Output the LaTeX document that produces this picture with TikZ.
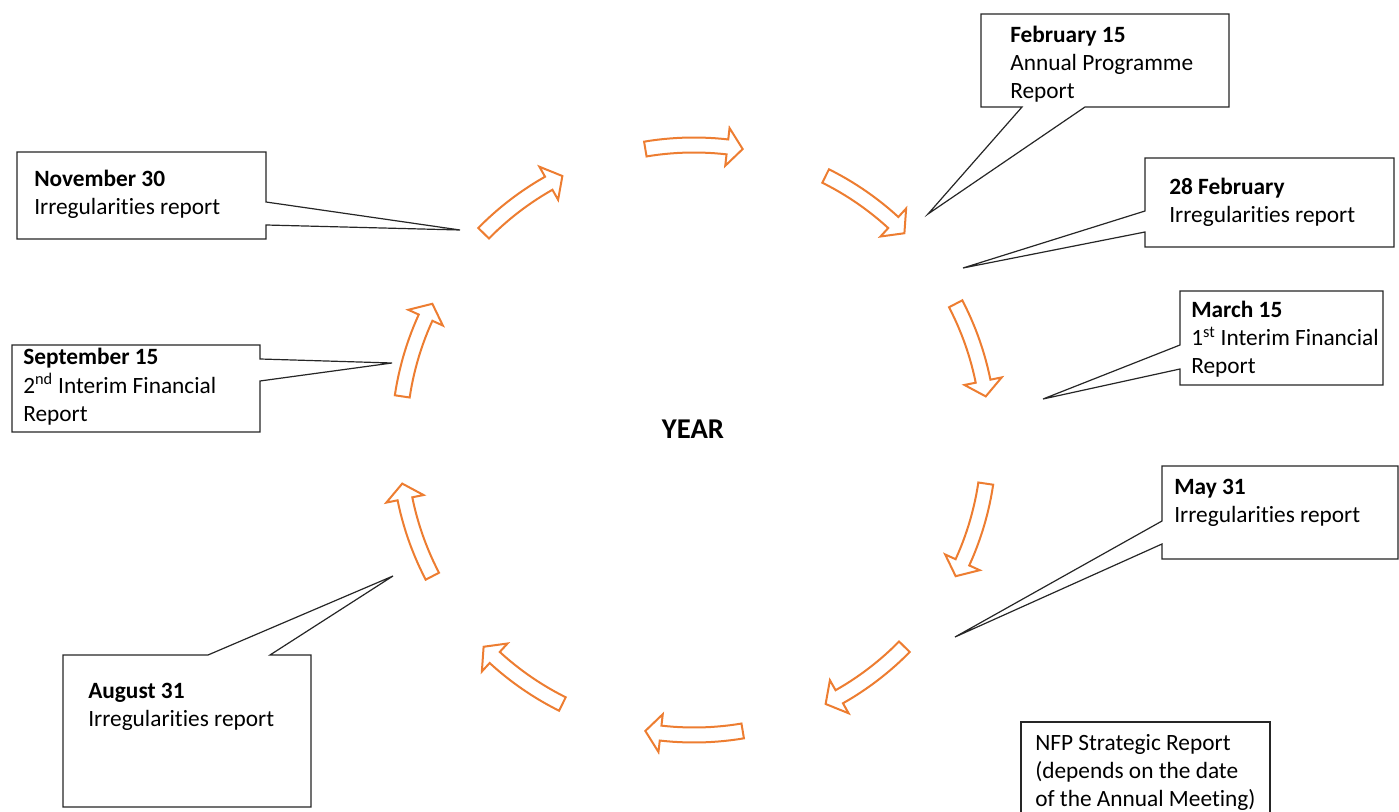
\documentclass[tikz,border=0pt]{standalone}
\usepackage{fontspec}
\setmainfont{Carlito}[RawFeature={-liga;-clig;-calt;-dlig}]
\definecolor{acc}{HTML}{ED7D31}
\newcommand\lblines[1]{\begin{tabular}[t]{@{}l@{}}#1\end{tabular}}
\begin{document}
\begin{tikzpicture}[x=0.75pt,y=-0.75pt,
  cyclearrow/.style={draw=acc, line width=1.5pt, fill=white, line join=miter},
  callout/.style={draw=black!85, line width=0.9pt, fill=white, line join=miter},
  lbl/.style={anchor=base west, inner sep=0pt, font=\fontsize{17.5}{21}\selectfont}]
\useasboundingbox (0,0) rectangle (1399,812);

% cycle arrows
\foreach \c in {-90,-54,-18,18,54,90,126,162,198,234} {
  \pgfmathsetmacro\ta{\c-9.5}
  \pgfmathsetmacro\tb{\c+6.5}
  \pgfmathsetmacro\tc{\c+9.5}
  \draw[cyclearrow] plot[domain=\ta:\tb,samples=14] ({694+302.5*cos(\x)},{440+302.5*sin(\x)})
    -- ({694+314*cos(\tb)},{440+314*sin(\tb)})
    -- ({694+295*cos(\tc)},{440+295*sin(\tc)})
    -- ({694+276*cos(\tb)},{440+276*sin(\tb)})
    -- plot[domain=\tb:\ta,samples=14] ({694+287.5*cos(\x)},{440+287.5*sin(\x)})
    -- cycle;
}

\node[font=\fontsize{21.5}{26}\selectfont\bfseries] (year) at (693,429) {YEAR};

% pointer tips
\coordinate (tipA) at (928,214);
\coordinate (tipB) at (963,268);
\coordinate (tipC) at (1043,399);
\coordinate (tipD) at (955,637);
\coordinate (tipE) at (393,576);
\coordinate (tipF) at (392,363);
\coordinate (tipG) at (460,230);

% callouts
\draw[callout] (981,14) -- (1229,14) -- (1229,107) -- (1085,107) -- (tipA) -- (1022,107) -- (981,107) -- cycle;
\draw[callout] (1145,158) -- (1394,158) -- (1394,247) -- (1145,247) -- (1145,232) -- (tipB) -- (1145,211) -- cycle;
\draw[callout] (1180,291) -- (1383,291) -- (1383,385) -- (1180,385) -- (1180,369) -- (tipC) -- (1180,345) -- cycle;
\draw[callout] (1162,466) -- (1398,466) -- (1398,559) -- (1162,559) -- (1162,544) -- (tipD) -- (1162,521) -- cycle;
\draw[callout] (1021,722) -- (1270,722) -- (1270,830) -- (1021,830) -- cycle;
\draw[callout] (63,655) -- (208,655) -- (tipE) -- (270,655) -- (311,655) -- (311,807) -- (63,807) -- cycle;
\draw[callout] (12,345) -- (260,345) -- (260,359) -- (tipF) -- (260,381) -- (260,432) -- (12,432) -- cycle;
\draw[callout] (17,152) -- (266,152) -- (266,202) -- (tipG) -- (266,225) -- (266,239) -- (17,239) -- cycle;

% texts
\node[lbl] (feb) at (1010,43) {\lblines{\textbf{February 15}\\Annual Programme\\Report}};
\node[lbl] (feb28) at (1169,195) {\lblines{\textbf{28 February}\\Irregularities report}};
\node[lbl] (mar) at (1191,318) {\lblines{\textbf{March 15}\\1\textsuperscript{st} Interim Financial\\Report}};
\node[lbl] (may) at (1174,494) {\lblines{\textbf{May 31}\\Irregularities report}};
\node[lbl] (nfp) at (1035,750) {\lblines{NFP Strategic Report\\(depends on the date\\of the Annual Meeting)}};
\node[lbl] (aug) at (88,698) {\lblines{\textbf{August 31}\\Irregularities report}};
\node[lbl] (sep) at (23,365) {\lblines{\textbf{September 15}\\2\textsuperscript{nd} Interim Financial\\Report}};
\node[lbl] (nov) at (34,187) {\lblines{\textbf{November 30}\\Irregularities report}};
\end{tikzpicture}
\end{document}
